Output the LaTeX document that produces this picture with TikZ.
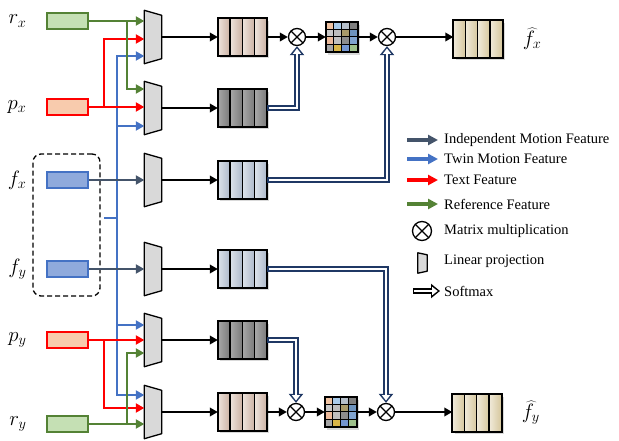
\documentclass[tikz,border=0pt]{standalone}
\usepackage{fontspec}
\setmainfont{Liberation Serif}
\usetikzlibrary{arrows.meta, positioning, calc, shadows}

\begin{document}
\begin{tikzpicture}[
    x=1pt, y=-1pt,
    every node/.style={font=\fontsize{14.5}{17}\selectfont},
    mathlbl/.style={font=\fontsize{20}{22}\selectfont, inner sep=0pt},
    inbox/.style={draw, line width=2.8pt, minimum width=41pt, minimum height=16pt, inner sep=0pt},
    projbox/.style={minimum width=17pt, minimum height=53pt, inner sep=0pt},
    projshape/.style={fill=projgray, draw=black, line width=1.3pt, line join=round},
    stackbox/.style={minimum width=49pt, minimum height=37pt, inner sep=0pt, fill=white,
        drop shadow={shadow xshift=2pt, shadow yshift=-2.5pt, opacity=0.3}},
    matbox/.style={minimum width=32pt, minimum height=30pt, inner sep=0pt, fill=white,
        drop shadow={shadow xshift=2pt, shadow yshift=-2.5pt, opacity=0.3}},
    mult/.style={circle, draw, fill=white, line width=1.3pt, minimum size=17pt, inner sep=0pt,
        path picture={\draw[line width=1.2pt]
            (path picture bounding box.north west) -- (path picture bounding box.south east)
            (path picture bounding box.north east) -- (path picture bounding box.south west);}},
    blk/.style={line width=2pt, -{Triangle[length=8pt, width=8.5pt]}},
    feat/.style={line width=2.5pt, -{Triangle[length=8.5pt, width=9pt]}},
    lgarrow/.style={line width=3.4pt, -{Triangle[length=10pt, width=10pt]}},
    softout/.style={draw=softnavy, line width=5.4pt, -{Triangle[length=9pt, width=14pt]}},
    softin/.style={draw=white, line width=2.6pt, shorten >=2.3pt, shorten <=1.4pt,
        -{Triangle[length=5.5pt, width=8pt]}},
    lgtext/.style={anchor=west, inner sep=0pt},
]

% ---------------------------------------------------------------- colours
\definecolor{refgreen}{HTML}{548235}
\definecolor{reffill}{HTML}{C5E0B4}
\definecolor{textred}{HTML}{FF0000}
\definecolor{textfill}{HTML}{F8CBAD}
\definecolor{twinblue}{HTML}{4472C4}
\definecolor{twinfill}{HTML}{8FAADC}
\definecolor{indslate}{HTML}{44546A}
\definecolor{softnavy}{HTML}{1F3864}
\definecolor{projgray}{HTML}{D9D9D9}
\definecolor{roseL}{HTML}{EEE4DD}   % feature stacks
\definecolor{roseD}{HTML}{CBB1A3}
\definecolor{darkL}{HTML}{A8A8A8}
\definecolor{darkD}{HTML}{7A7A7A}
\definecolor{steelL}{HTML}{DDE3EB}
\definecolor{steelD}{HTML}{ADB9CA}
\definecolor{khakiL}{HTML}{F0EADA}
\definecolor{khakiD}{HTML}{D6C79D}
\definecolor{g1}{HTML}{F0C3A2}      % matrix cells, row by row
\definecolor{g2}{HTML}{A9CBEA}
\definecolor{g3}{HTML}{B5BFCA}
\definecolor{g4}{HTML}{7F7F7F}
\definecolor{g5}{HTML}{C8C8C8}
\definecolor{g6}{HTML}{BDBDBD}
\definecolor{g7}{HTML}{A89A6A}
\definecolor{g8}{HTML}{6D93BE}
\definecolor{g9}{HTML}{EBB99A}
\definecolor{g10}{HTML}{BFBFBF}
\definecolor{g11}{HTML}{8C8C8C}
\definecolor{g12}{HTML}{7FA3CF}
\definecolor{g13}{HTML}{A6A6A6}
\definecolor{g14}{HTML}{D9B648}
\definecolor{g15}{HTML}{7496D0}
\definecolor{g16}{HTML}{9DC08B}

\useasboundingbox (0,0) rectangle (619,440);

% ================================================================
% inputs on the left, x-stream on top and y-stream below
% ================================================================
\node[inbox, draw=refgreen, fill=reffill]  (rx) at (67.5,21)  {};
\node[inbox, draw=textred,  fill=textfill] (px) at (67.5,107) {};
\node[inbox, draw=twinblue, fill=twinfill] (fx) at (67.5,180) {};
\node[inbox, draw=twinblue, fill=twinfill] (fy) at (67.5,269) {};
\node[inbox, draw=textred,  fill=textfill] (py) at (67.5,340) {};
\node[inbox, draw=refgreen, fill=reffill]  (ry) at (67.5,424) {};

\foreach \n/\t in {rx/r_x, px/p_x, fx/f_x, fy/f_y, py/p_y, ry/r_y}
    \node[mathlbl, left=19pt of \n] (\n lbl) {$\t$};

\node[draw, dashed, dash pattern=on 5pt off 3pt, rounded corners=8pt, line width=1.3pt,
    minimum width=67pt, minimum height=142pt] (grp) at (66.5,225) {};

% linear projections
\foreach \i/\y in {1/37, 2/108, 3/180, 4/269, 5/340, 6/412} {
    \node[projbox] (l\i) at (153,\y) {};
    \filldraw[projshape] (l\i.north west) -- ([yshift=-5pt]l\i.north east)
        -- ([yshift=5pt]l\i.south east) -- (l\i.south west) -- cycle;
}

% buses
\coordinate (busR) at (104,0);
\coordinate (busB) at (117,0);
\coordinate (busG) at (127,0);
\coordinate (tw)   at (104,218);

\foreach \t/\y in {1/56, 2/126, 5/325, 6/395}
    \draw[feat, twinblue] (tw -| busB) |- (l\t.west |- 0,\y);
\draw[twinblue, line width=2.5pt] (tw) -- (tw -| busB);

\draw[feat, textred]  (px.east) -- (px.east -| l2.west);
\draw[feat, textred]  (px.east -| busR) |- (l1.west |- 0,39);
\draw[feat, refgreen] (rx.east) -- (rx.east -| l1.west);
\draw[feat, refgreen] (rx.east -| busG) |- (l2.west |- 0,89);

\draw[feat, textred]  (py.east) -- (py.east -| l5.west);
\draw[feat, textred]  (py.east -| busR) |- (l6.west |- 0,408);
\draw[feat, refgreen] (ry.east) -- (ry.east -| l6.west);
\draw[feat, refgreen] (ry.east -| busG) |- (l5.west |- 0,353);

\draw[feat, indslate] (fx.east) -- (fx.east -| l3.west);
\draw[feat, indslate] (fy.east) -- (fy.east -| l4.west);

% feature stacks
\foreach \n/\x/\y/\col in {s1/242.5/37/rose, s2/242.5/108/dark, s3/242.5/180/steel,
        s4/242.5/269/steel, s5/242.5/340/dark, s6/242.5/412/rose,
        outx/478/39/khaki, outy/477/413/khaki} {
    \node[stackbox] (\n) at (\x,\y) {};
    \foreach \k in {0,...,3}
        \shadedraw[left color=\col L, right color=\col D, draw=black, line width=1.3pt]
            ($(\n.north west)+(\k*12.25,0)$) rectangle ($(\n.south west)+(\k*12.25+12.25,0)$);
    \draw[line width=1.7pt] (\n.north west) rectangle (\n.south east);
}

% attention matrices
\foreach \m/\x/\y in {mx/342/37, my/341/412} {
    \node[matbox] (\m) at (\x,\y) {};
    \foreach \cc [count=\k from 0] in {g1,g2,g3,g4,g5,g6,g7,g8,g9,g10,g11,g12,g13,g14,g15,g16} {
        \pgfmathsetmacro\cx{mod(\k,4)}
        \pgfmathsetmacro\cy{int(\k/4)}
        \fill[\cc] ($(\m.north west)+(\cx*8,\cy*7.5)$) rectangle ++(8,7.5);
    }
    \foreach \k in {1,2,3} {
        \draw[line width=1pt] ($(\m.north west)+(\k*8,0)$) -- ($(\m.south west)+(\k*8,0)$);
        \draw[line width=1pt] ($(\m.north west)+(0,\k*7.5)$) -- ($(\m.north east)+(0,\k*7.5)$);
    }
    \draw[line width=1.8pt] (\m.north west) rectangle (\m.south east);
}

\node[mult] (ox1) at (297,37)  {};
\node[mult] (ox2) at (387,37)  {};
\node[mult] (oy1) at (296,412) {};
\node[mult] (oy2) at (386,412) {};

\foreach \i in {1,...,6}
    \draw[blk] (l\i.east) -- (s\i.west);

\draw[blk] (s1.east)  -- (ox1.west);
\draw[blk] (ox1.east) -- (mx.west);
\draw[blk] (mx.east)  -- (ox2.west);
\draw[blk] (ox2.east) -- (ox2.east -| outx.west);

\draw[blk] (s6.east)  -- (oy1.west);
\draw[blk] (oy1.east) -- (my.west);
\draw[blk] (my.east)  -- (oy2.west);
\draw[blk] (oy2.east) -- (oy2.east -| outy.west);

% softmax weights: a dark outline first, then the white core
\foreach \a/\b in {s2/ox1.south, s3/ox2.south, s4/oy2.north, s5/oy1.north} {
    \draw[softout] (\a.east) -| (\b);
    \draw[softin]  (\a.east) -| (\b);
}

\node[mathlbl, right=20pt of outx] (hx) {$\widehat{f}_x$};
\node[mathlbl, right=20pt of outy] (hy) {$\widehat{f}_y$};

% ---------------------------------------------------------------- legend
\node[lgtext] (lg1) at (444,140) {Independent Motion Feature};
\node[lgtext] (lg2) at (444,159) {Twin Motion Feature};
\node[lgtext] (lg3) at (444,180) {Text Feature};
\node[lgtext] (lg4) at (444,204) {Reference Feature};
\node[lgtext] (lg5) at (444,231) {Matrix multiplication};
\node[lgtext] (lg6) at (444,261) {Linear projection};
\node[lgtext] (lg7) at (444,291) {Softmax};

\draw[lgarrow, indslate] ([xshift=-37pt]lg1.west) -- ([xshift=-6pt]lg1.west);
\draw[lgarrow, twinblue] ([xshift=-37pt]lg2.west) -- ([xshift=-6pt]lg2.west);
\draw[lgarrow, textred]  ([xshift=-37pt]lg3.west) -- ([xshift=-6pt]lg3.west);
\draw[lgarrow, refgreen] ([xshift=-37pt]lg4.west) -- ([xshift=-6pt]lg4.west);

\node[mult, minimum size=19pt] (lgm) at (422,231) {};
\node[projbox, minimum width=9pt, minimum height=20pt] (lgp) at (422.5,263) {};
\filldraw[projshape] (lgp.north west) -- ([yshift=-2pt]lgp.north east)
    -- ([yshift=2pt]lgp.south east) -- (lgp.south west) -- cycle;
\draw[softout, draw=black] ([xshift=-31pt]lg7.west) -- ([xshift=-4pt]lg7.west);
\draw[softin]              ([xshift=-31pt]lg7.west) -- ([xshift=-4pt]lg7.west);

\end{tikzpicture}
\end{document}
